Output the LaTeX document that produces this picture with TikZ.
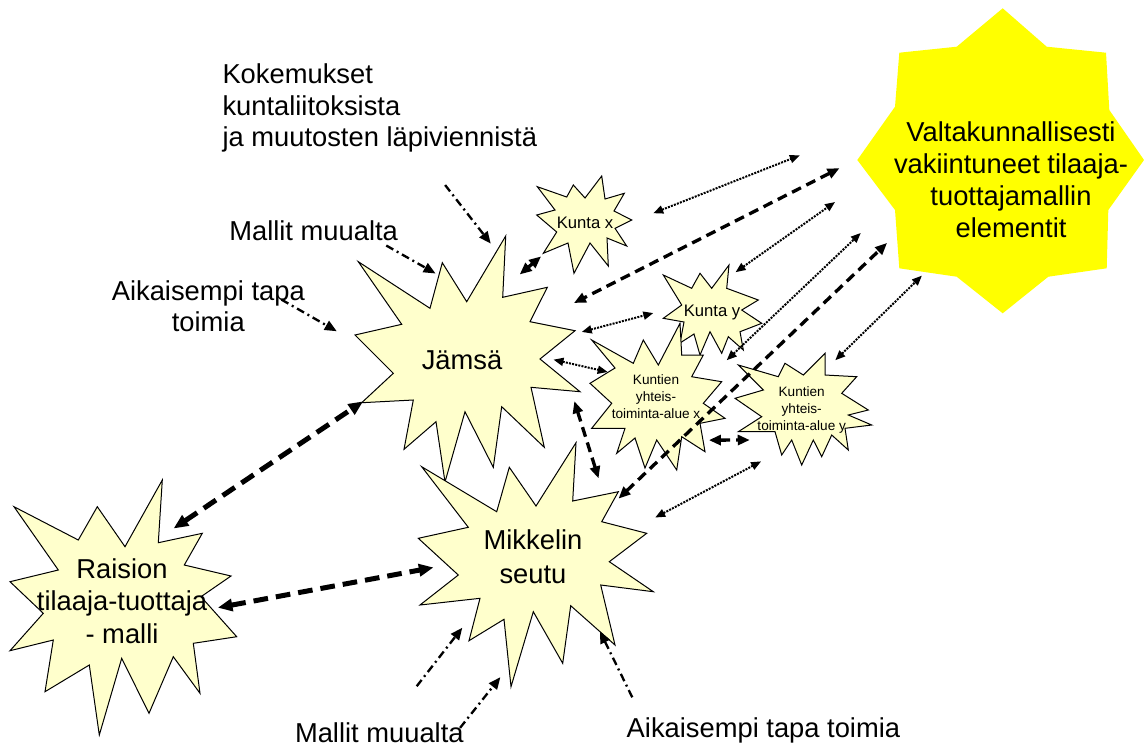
\documentclass[tikz,border=0pt]{standalone}
\usepackage{fontspec}
\setmainfont{Liberation Sans}
\usetikzlibrary{arrows.meta}
\definecolor{burstfill}{HTML}{FFFFCC}
\definecolor{valtafill}{HTML}{FFFF00}

\begin{document}
\begin{tikzpicture}[x=0.75pt, y=-0.75pt,
  burst/.style={draw=black, line width=0.75pt, fill=burstfill, line join=miter},
  startext/.style={circle, inner sep=0pt, outer sep=0pt, align=center},
  lbl/.style={inner sep=0pt, outer sep=0pt, font=\fontsize{20.5}{23.8}\selectfont},
  dotarrow/.style={{Triangle[length=7.5pt,width=6pt]}-{Triangle[length=7.5pt,width=6pt]}, line width=1.5pt, dash pattern=on 1.5pt off 0.9pt},
  dasharrow/.style={{Triangle[length=9pt,width=7.5pt]}-{Triangle[length=9pt,width=7.5pt]}, line width=2.5pt, dash pattern=on 7.5pt off 4.5pt},
  thickdash/.style={{Triangle[length=11pt,width=9pt]}-{Triangle[length=11pt,width=9pt]}, line width=3.75pt, dash pattern=on 11pt off 6pt},
  dashdot/.style={-{Triangle[length=9pt,width=7.5pt]}, line width=1.75pt, dash pattern=on 6pt off 3pt on 1.5pt off 3pt}]
\useasboundingbox (0,0) rectangle (1144,747);

\fill[valtafill] (1002.7,8.3) -- (1046.7,46.7) -- (1106,52.7) -- (1109.3,110) -- (1144,160) -- (1108.3,210) -- (1106.7,268.3) -- (1048.3,276.7) -- (1002.7,313.3) -- (956.7,276.7) -- (899.3,268.3) -- (895,210) -- (857.3,160) -- (895,106.7) -- (899.3,52.7) -- (956.7,46.7) -- cycle;
\draw[burst] (505.7,236) -- (502.7,297.3) -- (547.3,287.3) -- (530,321.7) -- (575,330.7) -- (540,359) -- (580,391.7) -- (531,387.3) -- (544.3,447.3) -- (501.7,406.7) -- (493.3,467.3) -- (465,411.7) -- (445,482) -- (436,421.7) -- (404,449.3) -- (413.3,400) -- (361.7,402.7) -- (393.3,373.3) -- (355,335) -- (401.7,324.3) -- (358.3,261.7) -- (430,308.3) -- (442.3,262.7) -- (466.7,301.7) -- cycle;
\draw[burst] (576,442.7) -- (572.7,501) -- (618.3,491.7) -- (601.7,521.7) -- (646.7,533.3) -- (609.3,561.7) -- (653.3,591.7) -- (600.7,585) -- (615,645) -- (570.7,605.7) -- (562.7,663.3) -- (533.3,611.7) -- (511,686.7) -- (504,619.3) -- (469,640.7) -- (480,598.3) -- (420,605) -- (458.3,575) -- (418.3,538.3) -- (468.3,527.3) -- (421.7,466.7) -- (496.7,511.7) -- (509.3,467.3) -- (536,506) -- cycle;
\draw[burst] (162.3,480) -- (158.3,542.7) -- (202.3,533.3) -- (184.3,565) -- (231,576) -- (201,596.7) -- (236.7,636.7) -- (193.3,643.3) -- (200,693.3) -- (173.3,656.7) -- (149,713.3) -- (121.7,658.3) -- (99.3,735) -- (89.3,665) -- (45,691.7) -- (53.3,640) -- (10,650.7) -- (43.3,613.3) -- (10,581.7) -- (58.3,570) -- (14,506.7) -- (78.3,540) -- (97.3,506.7) -- (125,546.7) -- cycle;
\draw[burst] (573.3,185) -- (585,198) -- (601.7,176) -- (605,199) -- (624.3,193.3) -- (614,211) -- (631.7,220) -- (615,228.3) -- (626.7,246) -- (607,238) -- (608.3,266) -- (590,243) -- (574,273.3) -- (568,243) -- (543.3,253.3) -- (556.7,232) -- (536.7,215) -- (555,210) -- (537.3,186.7) -- (566.7,197) -- cycle;
\draw[burst] (700,273.3) -- (711.7,288.3) -- (729,265) -- (726.7,288.3) -- (758.3,300) -- (741.7,310) -- (761.7,323.3) -- (740,331.7) -- (743.3,350) -- (728.3,336.7) -- (721.7,353.3) -- (710,331.7) -- (700,355) -- (694,334) -- (680,343) -- (684,322) -- (663.3,318.3) -- (681.7,305) -- (663.3,275) -- (691.7,288.3) -- cycle;
\draw[burst] (591.7,340) -- (633.3,363.3) -- (643.3,340) -- (658.3,365) -- (680,323.3) -- (681.7,355) -- (703.3,355) -- (691.7,376.7) -- (721.7,381.7) -- (703.3,403.3) -- (725,418.3) -- (700,423.3) -- (705,451.7) -- (681.7,436.7) -- (676.7,470) -- (656.7,440) -- (645,468) -- (635,438) -- (616.7,453.3) -- (625,428.3) -- (591.7,428.3) -- (611.7,403.3) -- (590,383.3) -- (615,368) -- cycle;
\draw[burst] (825,353.3) -- (825,375) -- (856.7,376.7) -- (841.7,393.3) -- (868.3,410) -- (848.3,415) -- (871.7,425) -- (845,428.3) -- (848.3,450) -- (831.7,435) -- (821.7,456.7) -- (813.3,440) -- (801.7,465) -- (791.7,440) -- (781.7,455) -- (775,431.7) -- (738.3,431.7) -- (761.7,416.7) -- (735,398.3) -- (763.3,390) -- (738.3,365) -- (778.3,376.7) -- (785,363.3) -- (803.3,375) -- cycle;

\node at (462,360) [startext, font=\fontsize{20.5}{23.8}\selectfont, minimum size=165pt] (jamsa) {Jämsä};
\node at (533,557) [startext, font=\fontsize{20.5}{25.5}\selectfont, minimum size=150pt] (mikkeli) {Mikkelin\\seutu};
\node at (122,601) [startext, font=\fontsize{20.5}{24.4}\selectfont, minimum size=144pt] (raisio) {Raision\\tilaaja-tuottaja\\- malli};
\node at (585,223.3) [startext, font=\fontsize{12.5}{15}\selectfont, minimum size=82.5pt] (kuntax) {Kunta x};
\node at (712,312.5) [startext, font=\fontsize{12.5}{15}\selectfont, minimum size=75pt] (kuntay) {Kunta y};
\node at (656,397) [startext, font=\fontsize{10.2}{12.75}\selectfont, minimum size=90pt] (alueX) {Kuntien\\yhteis-\\toiminta-alue x};
\node at (801.7,410) [startext, font=\fontsize{10.2}{12.5}\selectfont, minimum size=90pt] (alueY) {Kuntien\\yhteis-\\toiminta-alue y};
\node at (1011,180) [startext, font=\fontsize{20.5}{24}\selectfont, minimum size=198pt] (valta) {Valtakunnallisesti\\vakiintuneet tilaaja-\\tuottajamallin\\elementit};

\node at (222.5,63.6) [lbl, anchor=north west, align=left] (kokemukset) {Kokemukset\\kuntaliitoksista\\ja muutosten läpiviennistä};
\node at (229.3,240) [lbl, anchor=base west] (mallit1) {Mallit muualta};
\node at (208.3,280.3) [lbl, anchor=north, align=center] (aikaisempi1) {Aikaisempi tapa\\toimia};
\node at (295,742) [lbl, anchor=base west] (mallit2) {Mallit muualta};
\node at (626.7,737.3) [lbl, anchor=base west] (aikaisempi2) {Aikaisempi tapa toimia};

\draw[dashdot, shorten <=30.9pt, shorten >=13pt] (kokemukset.-48.7) -- (jamsa.69.5);
\draw[dashdot, shorten <=8pt, shorten >=-18.8pt] (mallit1.-9.6) -- (jamsa.116.5);
\draw[dashdot, shorten <=-20.2pt, shorten >=14.6pt] (aikaisempi1.-4.4) -- (jamsa.170.3);
\draw[dashdot, shorten <=34.2pt] (mallit2.47.4) -- (mikkeli.225.6);
\draw[dashdot, shorten <=-4.3pt, shorten >=20.5pt] (mallit2.6.8) -- (mikkeli.261.1);
\draw[dashdot, shorten <=16.9pt] (aikaisempi2.174.4) -- (mikkeli.312.7);

\draw[dasharrow, shorten <=-5.3pt] (jamsa.55.7) -- (kuntax.217.2);
\draw[dasharrow, shorten <=37pt, shorten >=11.7pt] (valta.165) -- (jamsa.27.8);
\draw[dasharrow, shorten <=2.7pt, shorten >=5.5pt] (mikkeli.34.2) -- (valta.206.4);
\draw[dasharrow, shorten <=12.9pt, shorten >=3.4pt] (jamsa.-13.7) -- (mikkeli.48.8);
\draw[dasharrow, shorten <=8.4pt] (alueX.-46.8) -- (alueY.210.8);

\draw[dotarrow, shorten <=10.8pt, shorten >=76.3pt] (kuntax.5) -- (valta.152);
\draw[dotarrow, shorten <=-2.7pt, shorten >=40.6pt] (kuntay.58.7) -- (valta.176.9);
\draw[dotarrow, shorten <=9.75pt, shorten >=6.75pt] (jamsa.13.2) -- (kuntay.178.4);
\draw[dotarrow, shorten <=-14.2pt, shorten >=-4.3pt] (jamsa.-2.8) -- (alueX.154.4);
\draw[dotarrow, shorten <=15.6pt, shorten >=22.9pt] (alueX.22.5) -- (valta.194.3);
\draw[dotarrow, shorten >=-1pt] (alueY.56.3) -- (valta.227.5);
\draw[dotarrow, shorten <=21.7pt, shorten >=4.5pt] (mikkeli.15.7) -- (alueY.234.6);

\draw[thickdash, shorten <=-5.6pt, shorten >=-2.2pt] (raisio.53.2) -- (jamsa.203.2);
\draw[thickdash] (raisio.-4.3) -- (mikkeli.186.7);
\end{tikzpicture}
\end{document}
